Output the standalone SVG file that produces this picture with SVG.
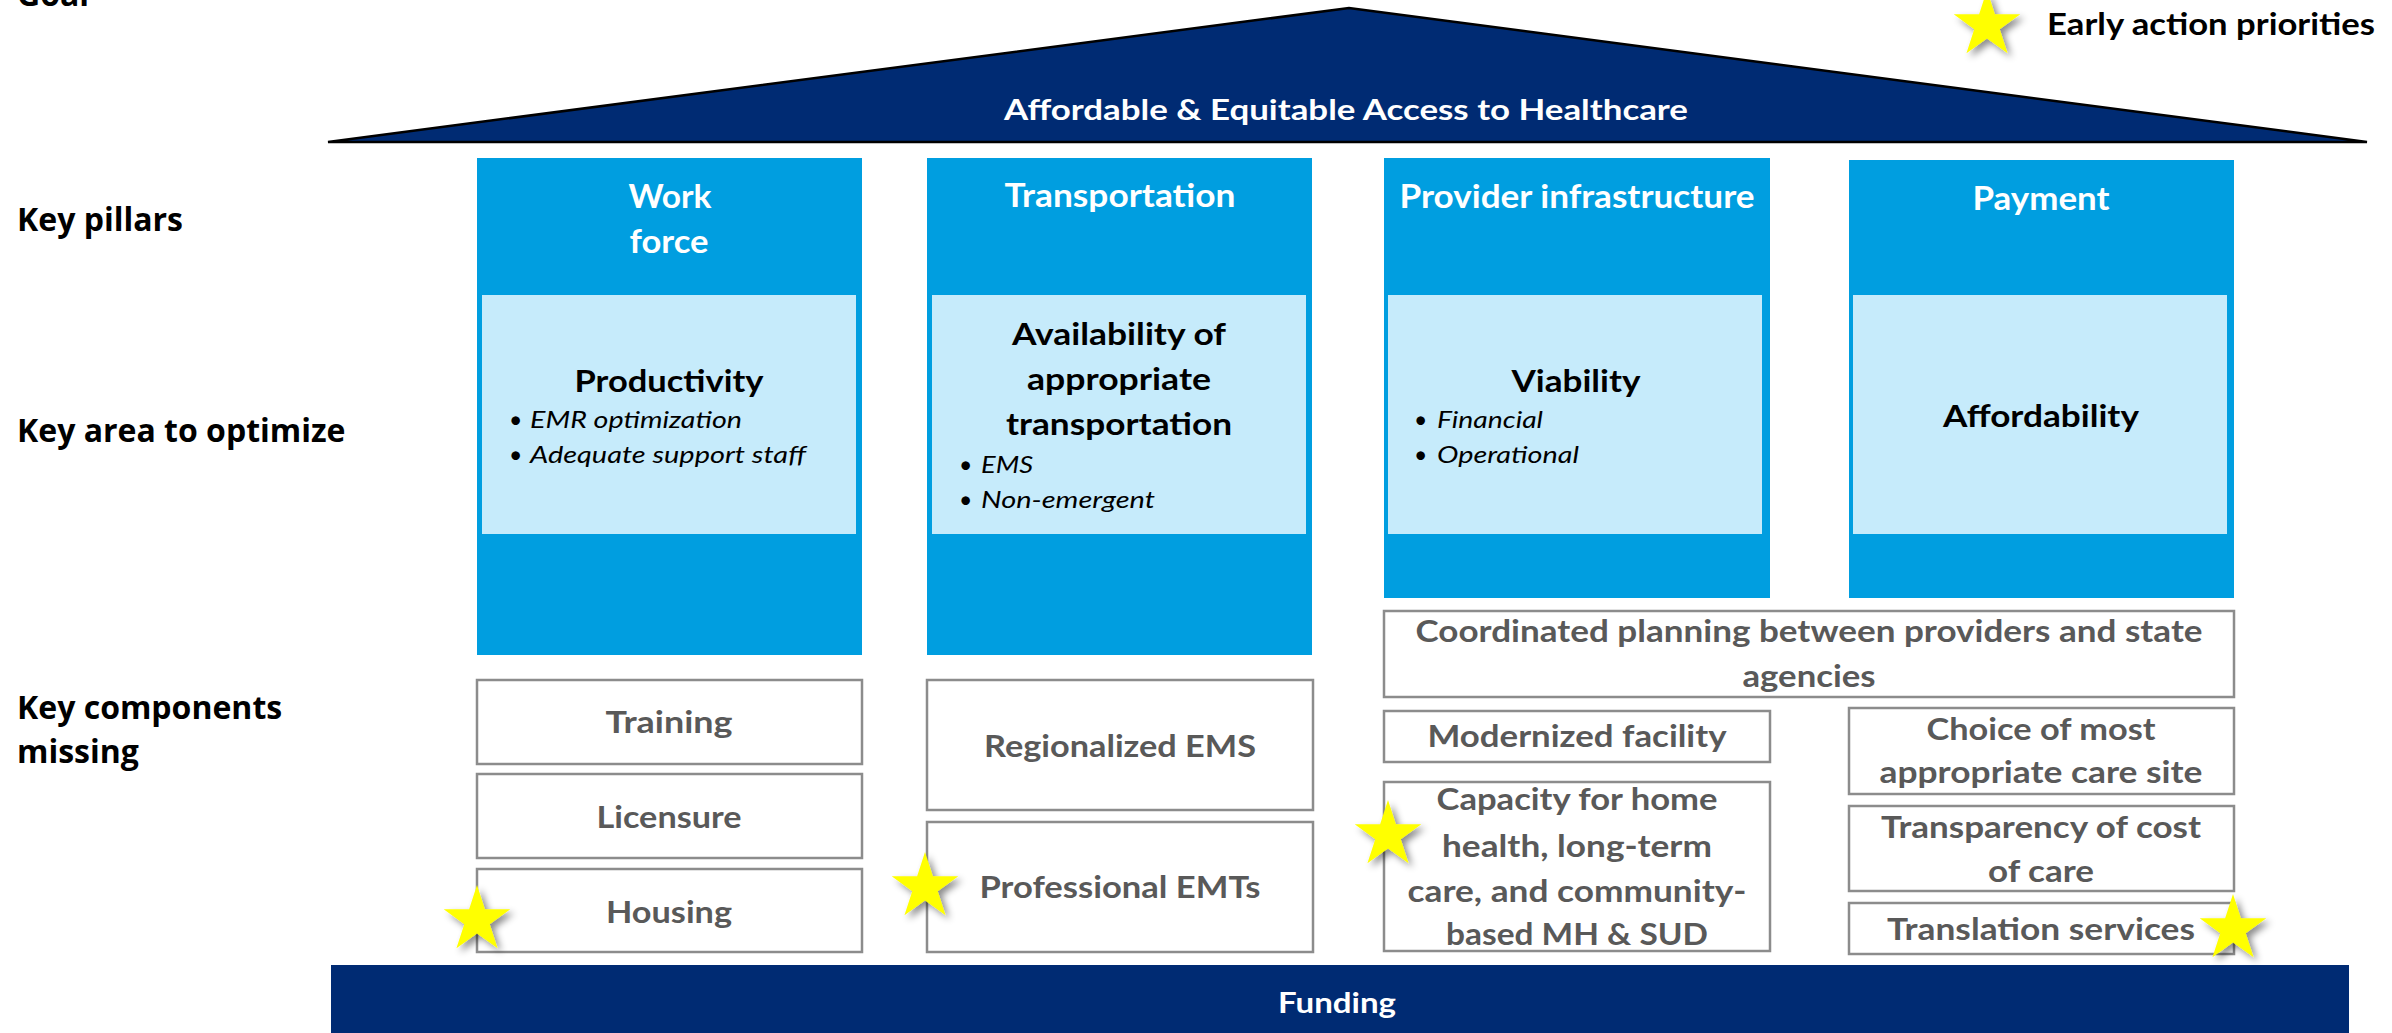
<svg xmlns="http://www.w3.org/2000/svg" width="2392" height="1033" viewBox="0 0 2392 1033">
  <defs>
    <style>
      .side { font-family: "Open Sans", "DejaVu Sans", sans-serif; font-weight: bold; font-size: 32px; fill: #000; }
      .legend { font-family: Lato, "Liberation Sans", sans-serif; font-weight: bold; font-size: 30px; fill: #000; }
      .roof { font-family: Lato, "Liberation Sans", sans-serif; font-weight: bold; font-size: 29px; fill: #fff; text-anchor: middle; }
      .pillar { fill: #009EE0; }
      .area { fill: #C6EBFB; }
      .hdr { font-family: Lato, "Liberation Sans", sans-serif; font-weight: bold; font-size: 32px; fill: #fff; text-anchor: middle; }
      .atitle { font-family: Lato, "Liberation Sans", sans-serif; font-weight: bold; font-size: 31px; fill: #000; text-anchor: middle; }
      .bul { font-family: Lato, "Liberation Sans", sans-serif; font-style: italic; font-size: 23px; fill: #000; }
      .dot { font-family: Lato, "Liberation Sans", sans-serif; font-size: 23px; fill: #000; }
      .box { fill: #fff; stroke: #8C8C8C; stroke-width: 2.5; }
      .comp { font-family: Lato, "Liberation Sans", sans-serif; font-weight: bold; font-size: 30px; fill: #595959; text-anchor: middle; }
      .navy { fill: #002B73; }
      .star { fill: #FFFF00; filter: url(#starShadow); }
    </style>
    <filter id="starShadow" x="-40%" y="-40%" width="190%" height="190%">
      <feDropShadow dx="4" dy="4" stdDeviation="3.5" flood-color="#000" flood-opacity="0.45"/>
    </filter>
    <path id="star5" d="M0,-35 L7.88,-10.84 L33.29,-10.82 L12.74,4.14 L20.57,28.32 L0,13.4 L-20.57,28.32 L-12.74,4.14 L-33.29,-10.82 L-7.88,-10.84 Z"/>
  </defs>

  <rect width="2392" height="1033" fill="#fff"/>

  <!-- row labels -->
  <g id="row-labels">
    <text class="side" x="17" y="6">Goal</text>
    <text class="side" x="17" y="231">Key pillars</text>
    <text class="side" x="17" y="442">Key area to optimize</text>
    <text class="side" x="17" y="719">Key components</text>
    <text class="side" x="17" y="763">missing</text>
  </g>

  <!-- legend -->
  <g id="legend">
    <use href="#star5" class="star" x="1987" y="25"/>
    <text class="legend" x="2047" y="35" textLength="328" lengthAdjust="spacingAndGlyphs">Early action priorities</text>
  </g>

  <!-- roof: goal -->
  <g id="goal">
    <polygon points="328,142 1349,8 2367,142" class="navy" stroke="#000" stroke-width="2.5" stroke-linejoin="miter"/>
    <text class="roof" x="1346" y="120" textLength="684" lengthAdjust="spacingAndGlyphs">Affordable &amp; Equitable Access to Healthcare</text>
  </g>

  <!-- pillar: workforce -->
  <g id="pillar-workforce">
    <rect class="pillar" x="477" y="158" width="385" height="497"/>
    <rect class="area" x="482" y="295" width="374" height="239"/>
    <text class="hdr" x="670" y="208" textLength="83" lengthAdjust="spacingAndGlyphs">Work</text>
    <text class="hdr" x="669" y="253" textLength="79" lengthAdjust="spacingAndGlyphs">force</text>
    <text class="atitle" x="669" y="392" textLength="189" lengthAdjust="spacingAndGlyphs">Productivity</text>
    <text class="dot" x="509" y="428">•</text>
    <text class="bul" x="530" y="428" textLength="212" lengthAdjust="spacingAndGlyphs">EMR optimization</text>
    <text class="dot" x="509" y="463">•</text>
    <text class="bul" x="530" y="463" textLength="276" lengthAdjust="spacingAndGlyphs">Adequate support staff</text>
  </g>

  <!-- pillar: transportation -->
  <g id="pillar-transportation">
    <rect class="pillar" x="927" y="158" width="385" height="497"/>
    <rect class="area" x="932" y="295" width="374" height="239"/>
    <text class="hdr" x="1120" y="207" textLength="231" lengthAdjust="spacingAndGlyphs">Transportation</text>
    <text class="atitle" x="1119" y="345" textLength="214" lengthAdjust="spacingAndGlyphs">Availability of</text>
    <text class="atitle" x="1119" y="390" textLength="184" lengthAdjust="spacingAndGlyphs">appropriate</text>
    <text class="atitle" x="1119" y="435" textLength="226" lengthAdjust="spacingAndGlyphs">transportation</text>
    <text class="dot" x="959" y="473">•</text>
    <text class="bul" x="981" y="473" textLength="52" lengthAdjust="spacingAndGlyphs">EMS</text>
    <text class="dot" x="959" y="508">•</text>
    <text class="bul" x="981" y="508" textLength="174" lengthAdjust="spacingAndGlyphs">Non-emergent</text>
  </g>

  <!-- pillar: provider infrastructure -->
  <g id="pillar-provider">
    <rect class="pillar" x="1384" y="158" width="386" height="440"/>
    <rect class="area" x="1388" y="295" width="374" height="239"/>
    <text class="hdr" x="1577" y="208" textLength="355" lengthAdjust="spacingAndGlyphs">Provider infrastructure</text>
    <text class="atitle" x="1576" y="392" textLength="129" lengthAdjust="spacingAndGlyphs">Viability</text>
    <text class="dot" x="1414" y="428">•</text>
    <text class="bul" x="1437" y="428" textLength="106" lengthAdjust="spacingAndGlyphs">Financial</text>
    <text class="dot" x="1414" y="463">•</text>
    <text class="bul" x="1437" y="463" textLength="142" lengthAdjust="spacingAndGlyphs">Operational</text>
  </g>

  <!-- pillar: payment -->
  <g id="pillar-payment">
    <rect class="pillar" x="1849" y="160" width="385" height="438"/>
    <rect class="area" x="1853" y="295" width="374" height="239"/>
    <text class="hdr" x="2041" y="210" textLength="137" lengthAdjust="spacingAndGlyphs">Payment</text>
    <text class="atitle" x="2041" y="427" textLength="196" lengthAdjust="spacingAndGlyphs">Affordability</text>
  </g>

  <!-- components: workforce -->
  <g id="comp-training">
    <rect class="box" x="477" y="680" width="385" height="84"/>
    <text class="comp" x="669" y="733" textLength="127" lengthAdjust="spacingAndGlyphs">Training</text>
  </g>
  <g id="comp-licensure">
    <rect class="box" x="477" y="774" width="385" height="84"/>
    <text class="comp" x="669" y="828" textLength="145" lengthAdjust="spacingAndGlyphs">Licensure</text>
  </g>
  <g id="comp-housing">
    <rect class="box" x="477" y="869" width="385" height="83"/>
    <text class="comp" x="669" y="923" textLength="126" lengthAdjust="spacingAndGlyphs">Housing</text>
  </g>

  <!-- components: transportation -->
  <g id="comp-regionalized-ems">
    <rect class="box" x="927" y="680" width="386" height="130"/>
    <text class="comp" x="1120" y="757" textLength="272" lengthAdjust="spacingAndGlyphs">Regionalized EMS</text>
  </g>
  <g id="comp-professional-emts">
    <rect class="box" x="927" y="822" width="386" height="130"/>
    <text class="comp" x="1120" y="898" textLength="281" lengthAdjust="spacingAndGlyphs">Professional EMTs</text>
  </g>

  <!-- components: provider infrastructure and payment -->
  <g id="comp-coordinated-planning">
    <rect class="box" x="1384" y="611" width="850" height="86"/>
    <text class="comp" x="1809" y="642" textLength="787" lengthAdjust="spacingAndGlyphs">Coordinated planning between providers and state</text>
    <text class="comp" x="1809" y="687" textLength="133" lengthAdjust="spacingAndGlyphs">agencies</text>
  </g>
  <g id="comp-modernized-facility">
    <rect class="box" x="1384" y="711" width="386" height="51"/>
    <text class="comp" x="1577" y="747" textLength="299" lengthAdjust="spacingAndGlyphs">Modernized facility</text>
  </g>
  <g id="comp-capacity">
    <rect class="box" x="1384" y="782" width="386" height="169"/>
    <text class="comp" x="1577" y="810" textLength="281" lengthAdjust="spacingAndGlyphs">Capacity for home</text>
    <text class="comp" x="1577" y="857" textLength="270" lengthAdjust="spacingAndGlyphs">health, long-term</text>
    <text class="comp" x="1577" y="902" textLength="339" lengthAdjust="spacingAndGlyphs">care, and community-</text>
    <text class="comp" x="1577" y="945" textLength="262" lengthAdjust="spacingAndGlyphs">based MH &amp; SUD</text>
  </g>
  <g id="comp-choice-of-site">
    <rect class="box" x="1849" y="708" width="385" height="86"/>
    <text class="comp" x="2041" y="740" textLength="229" lengthAdjust="spacingAndGlyphs">Choice of most</text>
    <text class="comp" x="2041" y="783" textLength="323" lengthAdjust="spacingAndGlyphs">appropriate care site</text>
  </g>
  <g id="comp-transparency">
    <rect class="box" x="1849" y="806" width="385" height="85"/>
    <text class="comp" x="2041" y="838" textLength="320" lengthAdjust="spacingAndGlyphs">Transparency of cost</text>
    <text class="comp" x="2041" y="882" textLength="106" lengthAdjust="spacingAndGlyphs">of care</text>
  </g>
  <g id="comp-translation">
    <rect class="box" x="1849" y="903" width="385" height="51"/>
    <text class="comp" x="2041" y="940" textLength="308" lengthAdjust="spacingAndGlyphs">Translation services</text>
  </g>

  <!-- foundation -->
  <g id="funding">
    <rect class="navy" x="331" y="965" width="2018" height="68"/>
    <text class="roof" x="1337" y="1013" textLength="118" lengthAdjust="spacingAndGlyphs">Funding</text>
  </g>

  <!-- priority markers -->
  <g id="priority-stars">
    <use href="#star5" class="star" x="477" y="920"/>
    <use href="#star5" class="star" x="925" y="887"/>
    <use href="#star5" class="star" x="1388" y="835"/>
    <use href="#star5" class="star" x="2233" y="929"/>
  </g>

  <g id="connectors"/>
</svg>
